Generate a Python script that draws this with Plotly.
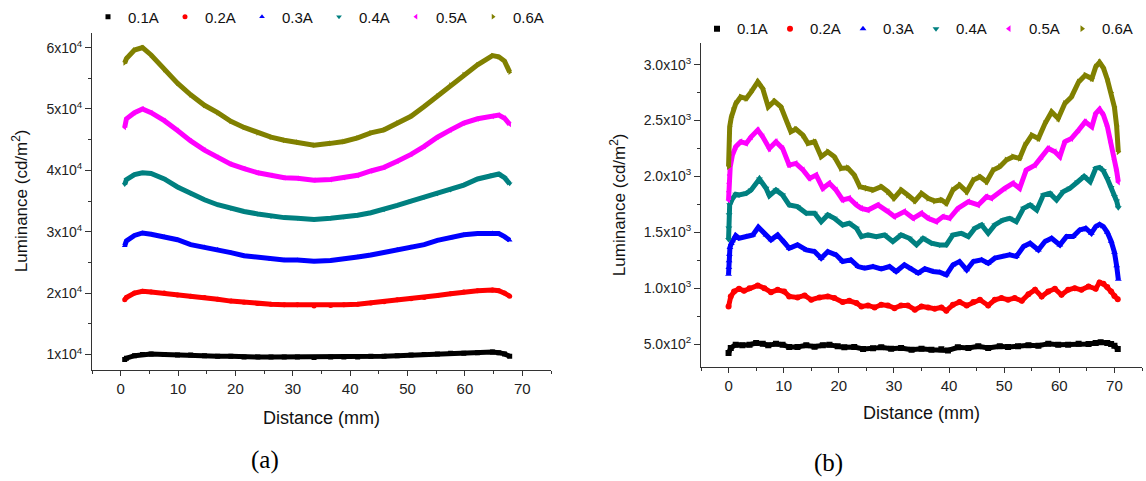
import plotly.graph_objects as go

W, H = 1146, 481

series_names = ["0.1A", "0.2A", "0.3A", "0.4A", "0.5A", "0.6A"]
series_colors = ["#000000", "#ff0000", "#0000ff", "#008080", "#ff00ff", "#808000"]
series_symbols = ["square", "circle", "triangle-up", "triangle-down", "triangle-left", "triangle-right"]

# ---------------- panel (a) ----------------
xa = [0.7, 1.0, 2.4, 3.8, 5.3, 7.6, 9.9, 12.2, 14.6, 16.9, 19.2, 21.5, 23.9, 26.2, 28.5, 30.8,
      33.7, 36.6, 38.9, 41.3, 43.6, 45.9, 48.2, 50.6, 52.9, 55.2, 57.5, 59.8, 62.2, 64.8, 65.9, 66.9, 67.8]
a_01 = [0.92e4, 0.94e4, 0.98e4, 1.00e4, 1.01e4, 1.00e4, 0.99e4, 0.99e4, 0.98e4, 0.97e4, 0.97e4, 0.96e4,
        0.96e4, 0.96e4, 0.96e4, 0.96e4, 0.95e4, 0.96e4, 0.96e4, 0.96e4, 0.97e4, 0.97e4, 0.98e4, 0.99e4,
        1.00e4, 1.01e4, 1.02e4, 1.02e4, 1.03e4, 1.04e4, 1.03e4, 1.01e4, 0.97e4]
a_02 = [1.89e4, 1.93e4, 2.00e4, 2.03e4, 2.02e4, 2.00e4, 1.97e4, 1.95e4, 1.93e4, 1.90e4, 1.87e4, 1.85e4,
        1.83e4, 1.82e4, 1.81e4, 1.81e4, 1.79e4, 1.80e4, 1.81e4, 1.82e4, 1.84e4, 1.86e4, 1.89e4, 1.91e4,
        1.93e4, 1.96e4, 1.99e4, 2.02e4, 2.04e4, 2.05e4, 2.04e4, 2.00e4, 1.95e4]
a_03 = [2.77e4, 2.85e4, 2.94e4, 2.98e4, 2.96e4, 2.92e4, 2.87e4, 2.79e4, 2.75e4, 2.71e4, 2.66e4, 2.61e4,
        2.58e4, 2.55e4, 2.54e4, 2.54e4, 2.52e4, 2.53e4, 2.55e4, 2.59e4, 2.62e4, 2.66e4, 2.71e4, 2.75e4,
        2.79e4, 2.86e4, 2.90e4, 2.95e4, 2.97e4, 2.98e4, 2.97e4, 2.92e4, 2.86e4]
a_04 = [3.77e4, 3.85e4, 3.93e4, 3.96e4, 3.95e4, 3.86e4, 3.73e4, 3.62e4, 3.52e4, 3.44e4, 3.38e4, 3.33e4,
        3.29e4, 3.25e4, 3.23e4, 3.22e4, 3.20e4, 3.22e4, 3.24e4, 3.27e4, 3.31e4, 3.36e4, 3.43e4, 3.50e4,
        3.56e4, 3.62e4, 3.68e4, 3.76e4, 3.86e4, 3.93e4, 3.94e4, 3.88e4, 3.78e4]
a_05 = [4.70e4, 4.84e4, 4.94e4, 5.00e4, 4.94e4, 4.81e4, 4.65e4, 4.48e4, 4.33e4, 4.21e4, 4.10e4, 4.03e4,
        3.96e4, 3.92e4, 3.88e4, 3.87e4, 3.84e4, 3.85e4, 3.88e4, 3.92e4, 3.99e4, 4.05e4, 4.15e4, 4.26e4,
        4.39e4, 4.54e4, 4.66e4, 4.77e4, 4.84e4, 4.88e4, 4.90e4, 4.85e4, 4.75e4]
a_06 = [5.75e4, 5.82e4, 5.96e4, 6.00e4, 5.88e4, 5.64e4, 5.42e4, 5.23e4, 5.06e4, 4.94e4, 4.80e4, 4.70e4,
        4.61e4, 4.54e4, 4.49e4, 4.46e4, 4.41e4, 4.44e4, 4.47e4, 4.53e4, 4.61e4, 4.66e4, 4.77e4, 4.88e4,
        5.04e4, 5.21e4, 5.39e4, 5.56e4, 5.72e4, 5.87e4, 5.85e4, 5.78e4, 5.60e4]
a_values = [a_01, a_02, a_03, a_04, a_05, a_06]

a_ytickvals = [1e4, 2e4, 3e4, 4e4, 5e4, 6e4]
a_yticktext = ["1x10<sup>4</sup>", "2x10<sup>4</sup>", "3x10<sup>4</sup>",
               "4x10<sup>4</sup>", "5x10<sup>4</sup>", "6x10<sup>4</sup>"]

# ---------------- panel (b) ----------------
bx_01 = [0.0, 0.4, 1.3, 2.5, 3.8, 5.0, 6.2, 7.2, 8.6, 9.8, 11.0, 12.5, 14.1, 15.6, 17.1, 18.3, 19.8, 21.0,
         22.8, 24.4, 26.2, 27.7, 29.5, 31.3, 33.2, 35.0, 36.8, 38.6, 39.8, 41.6, 43.5, 45.3, 47.1, 49.2,
         50.7, 52.5, 54.4, 56.2, 58.0, 59.8, 61.6, 63.5, 65.3, 66.6, 67.5, 68.7, 69.4, 70.0, 70.6]
by_01 = [420, 464, 494, 488, 494, 509, 503, 488, 503, 494, 473, 473, 488, 476, 488, 494, 479, 470,
         473, 455, 461, 470, 458, 464, 449, 458, 449, 452, 443, 470, 464, 479, 464, 479,
         473, 479, 488, 485, 503, 494, 494, 503, 500, 509, 515, 510, 500, 485, 455]

bx_02 = [0.0, 0.4, 1.0, 1.9, 2.8, 3.8, 5.3, 6.5, 7.7, 8.9, 10.1, 11.0, 12.5, 13.8, 15.0, 16.5, 18.0, 19.2,
         20.7, 21.9, 23.2, 24.1, 25.3, 26.5, 27.7, 28.9, 30.1, 31.3, 32.5, 33.8, 35.0, 36.2, 37.4, 38.6,
         39.5, 40.7, 41.9, 43.2, 44.4, 45.6, 47.1, 48.3, 49.5, 50.7, 51.9, 53.2, 54.4, 55.6, 56.8, 58.0,
         59.2, 60.4, 61.6, 62.8, 64.0, 65.3, 66.6, 67.3, 68.0, 68.7, 69.4, 70.0, 70.6]
by_02 = [836, 926, 970, 994, 976, 1000, 1024, 1000, 964, 985, 970, 926, 917, 935, 896, 917, 926, 911,
         875, 887, 866, 836, 845, 827, 851, 845, 821, 845, 845, 807, 836, 827, 815, 827,
         798, 851, 875, 845, 875, 896, 845, 896, 911, 896, 911, 887, 946, 985, 926, 970,
         994, 940, 985, 1000, 985, 1015, 994, 1050, 1040, 1010, 970, 930, 900]

bx_03 = [0.0, 0.05, 0.1, 0.15, 0.25, 0.5, 0.7, 1.3, 1.9, 3.2, 4.4, 5.4, 6.8, 7.7, 8.9, 10.1, 11.0, 12.5,
         14.1, 15.6, 16.8, 18.0, 19.5, 20.7, 22.2, 23.5, 24.7, 26.2, 27.7, 29.2, 30.4, 31.9, 33.2, 34.4,
         35.6, 37.1, 38.3, 39.5, 40.7, 41.9, 43.2, 44.4, 45.9, 47.1, 48.3, 49.8, 51.0, 52.2, 53.5, 54.7,
         56.2, 57.4, 58.6, 60.1, 61.3, 62.5, 63.7, 64.8, 65.8, 66.6, 67.3, 68.0, 68.7, 69.4, 70.0, 70.4, 70.7]
by_03 = [1125, 1185, 1245, 1304, 1364, 1400, 1423, 1470, 1446, 1461, 1476, 1545, 1476, 1432, 1476, 1417, 1357, 1387,
         1342, 1327, 1268, 1327, 1298, 1238, 1253, 1193, 1179, 1193, 1173, 1193, 1149, 1208, 1173, 1134,
         1173, 1149, 1143, 1119, 1208, 1238, 1164, 1238, 1253, 1223, 1268, 1283, 1298, 1283, 1372, 1402,
         1342, 1417, 1446, 1387, 1461, 1461, 1521, 1536, 1491, 1551, 1570, 1550, 1500, 1420, 1320, 1200, 1080]

bx_04 = [0.0, 0.05, 0.1, 0.2, 0.7, 1.3, 1.9, 3.2, 4.1, 5.6, 6.8, 7.4, 8.6, 9.8, 11.0, 12.5, 14.1, 15.6,
         16.8, 18.0, 19.2, 20.7, 21.9, 23.2, 24.1, 25.3, 26.8, 28.3, 29.8, 31.3, 32.8, 34.1, 35.3, 36.8,
         38.3, 39.5, 40.7, 42.2, 43.5, 44.7, 45.9, 47.1, 48.3, 49.8, 51.0, 52.2, 53.5, 54.7, 55.9, 57.1,
         58.3, 59.5, 60.7, 61.9, 63.3, 64.5, 65.6, 66.6, 67.3, 68.0, 68.7, 69.4, 70.0, 70.4, 70.7]
by_04 = [1436, 1537, 1656, 1745, 1800, 1840, 1833, 1848, 1878, 1976, 1893, 1827, 1878, 1833, 1744, 1729, 1670, 1670,
         1595, 1655, 1625, 1565, 1580, 1536, 1461, 1476, 1461, 1476, 1417, 1476, 1446, 1387, 1446, 1402,
         1387, 1387, 1476, 1491, 1461, 1536, 1565, 1491, 1565, 1610, 1625, 1595, 1714, 1744, 1699, 1833,
         1848, 1789, 1863, 1893, 1950, 2000, 1952, 2071, 2080, 2050, 1980, 1900, 1820, 1780, 1720]

bx_05 = [0.0, 0.05, 0.1, 0.2, 0.3, 0.7, 1.3, 2.2, 3.2, 4.1, 5.3, 6.2, 7.4, 8.6, 9.8, 11.0, 12.2, 13.5,
         14.7, 15.9, 17.1, 18.3, 19.5, 20.7, 21.9, 23.2, 24.1, 25.3, 27.1, 28.9, 30.1, 31.9, 33.5, 35.0,
         36.2, 37.7, 38.9, 40.1, 41.6, 43.5, 45.3, 46.8, 47.7, 50.1, 51.6, 52.8, 54.0, 55.6, 56.8, 58.0,
         59.2, 60.1, 61.0, 62.2, 63.5, 64.7, 65.9, 66.6, 67.3, 68.0, 68.7, 69.4, 70.0, 70.4, 70.7]
by_05 = [1789, 1863, 1938, 2012, 2086, 2190, 2265, 2310, 2295, 2354, 2414, 2354, 2250, 2310, 2250, 2101, 2116, 2057,
         1982, 2012, 1893, 1938, 1878, 1789, 1804, 1744, 1714, 1699, 1744, 1685, 1640, 1685, 1625, 1670,
         1625, 1595, 1640, 1625, 1714, 1774, 1744, 1818, 1804, 1893, 1938, 1893, 2057, 2101, 2176, 2250,
         2220, 2176, 2310, 2339, 2414, 2488, 2443, 2563, 2600, 2550, 2450, 2300, 2150, 2050, 1950]

bx_06 = [0.0, 0.05, 0.1, 0.2, 0.5, 0.8, 1.3, 2.2, 3.2, 4.1, 5.3, 6.2, 7.2, 8.3, 9.5, 10.7, 11.3, 12.2,
         13.5, 14.4, 15.6, 16.8, 18.0, 19.2, 20.4, 21.6, 22.8, 23.8, 25.0, 26.2, 27.7, 28.9, 30.0, 31.3,
         32.5, 33.8, 35.0, 36.2, 37.4, 38.6, 39.5, 40.7, 41.9, 43.2, 44.4, 45.6, 46.8, 48.0, 49.2, 50.4,
         51.6, 52.8, 53.8, 55.0, 56.2, 57.4, 58.6, 59.8, 61.0, 62.2, 63.5, 64.7, 65.9, 66.6, 67.3, 68.0,
         68.7, 69.4, 70.0, 70.4, 70.7]
by_06 = [2087, 2192, 2317, 2444, 2530, 2590, 2650, 2711, 2696, 2756, 2845, 2786, 2622, 2673, 2622, 2473, 2399, 2423,
         2369, 2295, 2310, 2176, 2220, 2176, 2071, 2077, 2012, 1908, 1893, 1878, 1908, 1863, 1804, 1878,
         1833, 1780, 1848, 1804, 1780, 1789, 1759, 1878, 1923, 1863, 1967, 1997, 1952, 2056, 2086, 2146,
         2176, 2161, 2280, 2369, 2339, 2473, 2577, 2518, 2652, 2711, 2845, 2905, 2875, 2980, 3020, 2970,
         2870, 2750, 2620, 2450, 2220]

b_x = [bx_01, bx_02, bx_03, bx_04, bx_05, bx_06]
b_values = [by_01, by_02, by_03, by_04, by_05, by_06]

b_ytickvals = [500, 1000, 1500, 2000, 2500, 3000]
b_yticktext = ["5.0x10<sup>2</sup>", "1.0x10<sup>3</sup>", "1.5x10<sup>3</sup>",
               "2.0x10<sup>3</sup>", "2.5x10<sup>3</sup>", "3.0x10<sup>3</sup>"]

x_range = [-5, 75]
a_yrange = [7400, 62400]
b_yrange = [290, 3195]

FONT = "Liberation Sans, Arial, sans-serif"
AXC = "#333333"

fig = go.Figure()

# panel (a)
for name, col, sym, ys in zip(series_names, series_colors, series_symbols, a_values):
    fig.add_trace(go.Scatter(x=xa, y=ys, mode="lines", line=dict(color=col, width=5),
                             showlegend=False, hoverinfo="skip", xaxis="x", yaxis="y"))
    fig.add_trace(go.Scatter(x=xa, y=ys, mode="markers", name=name,
                             marker=dict(color=col, symbol=sym, size=5, line=dict(width=0)),
                             legend="legend", xaxis="x", yaxis="y"))
# panel (b)
for name, col, sym, xs, ys in zip(series_names, series_colors, series_symbols, b_x, b_values):
    fig.add_trace(go.Scatter(x=xs, y=ys, mode="lines", line=dict(color=col, width=5),
                             showlegend=False, hoverinfo="skip", xaxis="x2", yaxis="y2"))
    fig.add_trace(go.Scatter(x=xs, y=ys, mode="markers", name=name,
                             marker=dict(color=col, symbol=sym, size=6, line=dict(width=0)),
                             legend="legend2", xaxis="x2", yaxis="y2"))

dom_xa = [92 / W, 551 / W]
dom_ya = [(H - 370) / H, (H - 31) / H]
dom_xb = [701 / W, 1142 / W]
dom_yb = [(H - 367) / H, (H - 41) / H]

def xax(domain, anchor, **kw):
    d = dict(domain=domain, anchor=anchor, range=x_range, tick0=0, dtick=10, ticks="outside",
             ticklen=5, tickwidth=1, tickcolor=AXC, showline=True, linecolor=AXC, linewidth=1,
             showgrid=False, zeroline=False, tickfont=dict(family=FONT, size=15, color="#222"),
             minor=dict(ticks="outside", tick0=0, dtick=5, ticklen=3, tickcolor=AXC, showgrid=False))
    d.update(kw)
    return d

def yax(domain, anchor, rng, vals, text, minor_dt, **kw):
    d = dict(domain=domain, anchor=anchor, range=rng, tickmode="array", tickvals=vals, ticktext=text,
             ticks="outside", ticklen=6, tickwidth=1, tickcolor=AXC, showline=True, linecolor=AXC,
             linewidth=1, showgrid=False, zeroline=False,
             tickfont=dict(family=FONT, size=14, color="#222"),
             minor=dict(ticks="outside", tick0=0, dtick=minor_dt, ticklen=3, tickcolor=AXC, showgrid=False))
    d.update(kw)
    return d

layout = dict(
    width=W, height=H, autosize=False,
    margin=dict(l=0, r=0, t=0, b=0),
    paper_bgcolor="white", plot_bgcolor="white",
    font=dict(family=FONT, color="#111"),
    xaxis=xax(dom_xa, "y"),
    yaxis=yax(dom_ya, "x", a_yrange, a_ytickvals, a_yticktext, 5000),
    xaxis2=xax(dom_xb, "y2"),
    yaxis2=yax(dom_yb, "x2", b_yrange, b_ytickvals, b_yticktext, 250),
    # mirrored inner ticks (top / right)
    xaxis3=xax(dom_xa, "y", overlaying="x", side="top", ticks="inside", showticklabels=False,
               minor=dict(ticks="inside", tick0=0, dtick=5, ticklen=3, tickcolor=AXC)),
    yaxis3=yax(dom_ya, "x", a_yrange, a_ytickvals, a_yticktext, 5000, overlaying="y", side="right",
               ticks="inside", showticklabels=False,
               minor=dict(ticks="inside", tick0=0, dtick=5000, ticklen=3, tickcolor=AXC)),
    xaxis4=xax(dom_xb, "y2", overlaying="x2", side="top", ticks="inside", showticklabels=False,
               minor=dict(ticks="inside", tick0=0, dtick=5, ticklen=3, tickcolor=AXC)),
    yaxis4=yax(dom_yb, "x2", b_yrange, b_ytickvals, b_yticktext, 250, overlaying="y2", side="right",
               ticks="inside", showticklabels=False,
               minor=dict(ticks="inside", tick0=0, dtick=250, ticklen=3, tickcolor=AXC)),
    legend=dict(orientation="h", x=88 / W, xanchor="left", y=1 - 15 / H, yanchor="middle",
                font=dict(family=FONT, size=15, color="#111"), bgcolor="rgba(0,0,0,0)",
                itemwidth=30, entrywidth=32, entrywidthmode="pixels", traceorder="normal"),
    legend2=dict(orientation="h", x=697 / W, xanchor="left", y=1 - 27 / H, yanchor="middle",
                 font=dict(family=FONT, size=15, color="#111"), bgcolor="rgba(0,0,0,0)",
                 itemwidth=30, entrywidth=28, entrywidthmode="pixels", traceorder="normal"),
)
fig.update_layout(**layout)

ann = [
    dict(text="Luminance (cd/m<sup>2</sup>)", x=20 / W, y=1 - 200 / H, textangle=-90,
         font=dict(family=FONT, size=17, color="#111")),
    dict(text="Luminance (cd/m<sup>2</sup>)", x=618 / W, y=1 - 204 / H, textangle=-90,
         font=dict(family=FONT, size=17, color="#111")),
    dict(text="Distance (mm)", x=321 / W, y=1 - 418 / H, font=dict(family=FONT, size=18, color="#111")),
    dict(text="Distance (mm)", x=921 / W, y=1 - 413 / H, font=dict(family=FONT, size=18, color="#111")),
    dict(text="(a)", x=265 / W, y=1 - 460 / H,
         font=dict(family="Liberation Serif, Times New Roman, serif", size=25, color="#000")),
    dict(text="(b)", x=828 / W, y=1 - 463 / H,
         font=dict(family="Liberation Serif, Times New Roman, serif", size=25, color="#000")),
]
for a in ann:
    a.update(xref="paper", yref="paper", xanchor="center", yanchor="middle", showarrow=False)
fig.update_layout(annotations=ann)

fig.write_html("out.html", include_plotlyjs=True, config={"displayModeBar": False},
               post_script="document.body.style.margin='0';document.body.style.overflow='hidden';")
